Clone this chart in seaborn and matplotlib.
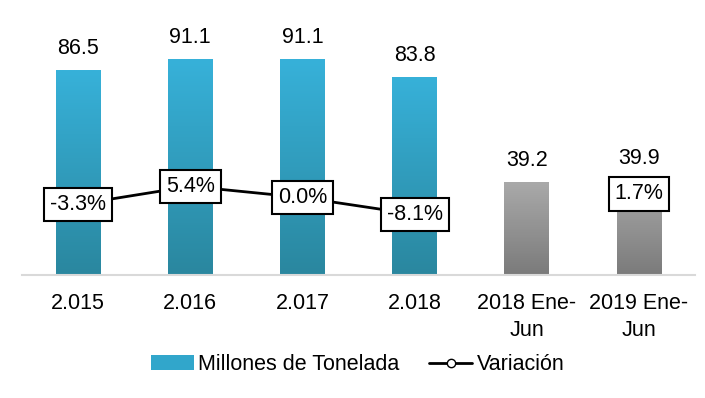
import numpy as np
import pandas as pd
import seaborn as sns
from matplotlib import pyplot as plt
from matplotlib.patches import Patch
from matplotlib.lines import Line2D
from matplotlib.colors import LinearSegmentedColormap

categorias = ['2.015', '2.016', '2.017', '2.018', '2018 Ene-\nJun', '2019 Ene-\nJun']
toneladas = [86.5, 91.1, 91.1, 83.8, 39.2, 39.9]
variacion = [-3.3, 5.4, 0.0, -8.1, np.nan, 1.7]
etiquetas_var = ['-3.3%', '5.4%', '0.0%', '-8.1%', '', '1.7%']
tipo = ['anual', 'anual', 'anual', 'anual', 'semestre', 'semestre']

sns.set_theme(style='white')
plt.rcParams['font.family'] = ['Liberation Sans', 'DejaVu Sans']
plt.rcParams['text.color'] = 'black'
FS = 15.5

df = pd.DataFrame({'cat': categorias, 'ton': toneladas, 'tipo': tipo})

fig = plt.figure(figsize=(7.05, 3.98), dpi=100)
ax = fig.add_axes([0.031, 0.309, 0.955, 0.666])

colores = {'anual': '#31a6cb', 'semestre': '#959595'}
sns.barplot(data=df, x='cat', y='ton', hue='tipo', palette=colores, dodge=False,
            width=0.4, legend=False, ax=ax, saturation=1)

# degradado en las barras
grad_azul = LinearSegmentedColormap.from_list('azul', ['#2a879f', '#37b1d9'])
grad_gris = LinearSegmentedColormap.from_list('gris', ['#7b7b7b', '#a9a9a9'])
for bar in list(ax.patches):
    if bar.get_height() <= 0:
        continue
    x0, y0 = bar.get_x(), bar.get_y()
    w, h = bar.get_width(), bar.get_height()
    cmap = grad_gris if h < 50 else grad_azul
    g = np.linspace(0, 1, 100).reshape(-1, 1)
    im = ax.imshow(g, cmap=cmap, extent=[x0, x0 + w, y0, y0 + h], origin='lower',
                   aspect='auto', zorder=bar.get_zorder() + 0.1)
    im.set_clip_path(bar)
    ax.annotate(format(h, '.1f'), (x0 + w / 2, y0 + h), xytext=(0, 8),
                textcoords='offset points', ha='center', va='bottom', fontsize=FS)

ax.set_xlim(-0.5, 5.5)
ax.set_ylim(0, 112)
ax.set_xlabel('')
ax.set_ylabel('')
ax.set_yticks([])
for s in ['top', 'left', 'right']:
    ax.spines[s].set_visible(False)
ax.spines['bottom'].set_color('#d9d9d9')
ax.spines['bottom'].set_linewidth(1.5)
ax.tick_params(axis='x', which='major', length=0, labelsize=FS, pad=13, colors='black')
for lbl in ax.get_xticklabels():
    lbl.set_linespacing(1.35)
ax.set_xticks(np.arange(-0.5, 6, 1), minor=True)
ax.tick_params(axis='x', which='minor', length=7, width=1.5, color='#d9d9d9')

# variacion en eje secundario
ax2 = ax.twinx()
xs = np.arange(len(categorias))
ax2.plot(xs, variacion, color='black', lw=2, marker='o', mfc='white', mec='black', ms=6, zorder=3)
for x, v, t in zip(xs, variacion, etiquetas_var):
    if t:
        ax2.text(x, v, t, ha='center', va='center', fontsize=FS, zorder=4,
                 bbox=dict(boxstyle='square,pad=0.28', fc='white', ec='black', lw=1.5))
ax2.set_ylim(-37.4, 90.5)
ax2.set_yticks([])
for s in ax2.spines.values():
    s.set_visible(False)

handles = [Patch(facecolor='#31a6cb', edgecolor='none'),
           Line2D([], [], color='black', lw=2, marker='o', mfc='white', mec='black', ms=6)]
fig.legend(handles, ['Millones de Tonelada', 'Variación'], loc='center',
           bbox_to_anchor=(0.507, 0.083), ncol=2, frameon=False, fontsize=FS,
           handlelength=2.0, handletextpad=0.2, columnspacing=1.4)

fig.savefig('out.png', dpi=100)
